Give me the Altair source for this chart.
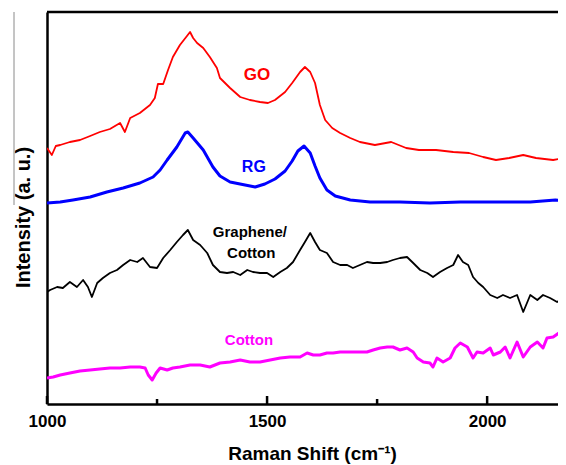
import altair as alt
import pandas as pd

# ---- data (wavenumber cm^-1, intensity a.u.) ----
go_x = [1000, 1011, 1020, 1030, 1052, 1075, 1098, 1120, 1143, 1166, 1177, 1189, 1211, 1234, 1245,
        1252, 1264, 1275, 1286, 1302, 1318, 1325, 1332, 1341, 1355, 1370, 1386, 1393, 1416, 1439,
        1461, 1484, 1502, 1518, 1541, 1557, 1575, 1586, 1598, 1609, 1620, 1632, 1648, 1666, 1689,
        1711, 1745, 1782, 1816, 1845, 1884, 1923, 1959, 1991, 2020, 2050, 2082, 2111, 2150, 2173]
go_y = [256, 249, 258, 259, 262, 264, 268, 272, 275, 281, 272, 286, 291, 299, 306,
        320, 320, 334, 347, 359, 368, 372, 366, 361, 356, 347, 336, 326, 316, 307,
        304, 302, 301, 304, 312, 321, 332, 337, 332, 321, 299, 284, 276, 271, 266,
        262, 259, 262, 256, 254, 254, 252, 251, 247, 244, 246, 249, 246, 244, 246]

rg_x = [1000, 1030, 1059, 1098, 1136, 1173, 1211, 1241, 1257, 1273, 1295, 1314, 1320, 1332, 1355,
        1377, 1393, 1416, 1450, 1473, 1495, 1518, 1541, 1557, 1570, 1584, 1598, 1609, 1620, 1636,
        1655, 1689, 1734, 1802, 1870, 1939, 2030, 2098, 2155, 2173]
rg_y = [201, 202, 204, 207, 212, 216, 221, 227, 234, 244, 257, 271, 272, 266, 254,
        237, 228, 222, 219, 217, 220, 225, 233, 243, 253, 258, 251, 238, 226, 214,
        208, 204, 202, 202, 201, 202, 202, 202, 204, 203]

gc_x = [1000, 1007, 1023, 1036, 1052, 1068, 1082, 1093, 1102, 1114, 1127, 1143, 1159, 1173, 1189,
        1205, 1218, 1234, 1250, 1264, 1280, 1295, 1309, 1320, 1332, 1348, 1364, 1377, 1393, 1409,
        1423, 1439, 1455, 1468, 1484, 1500, 1514, 1530, 1545, 1559, 1575, 1586, 1598, 1609, 1620,
        1636, 1650, 1666, 1682, 1695, 1711, 1727, 1741, 1757, 1773, 1786, 1802, 1818, 1832, 1848,
        1864, 1877, 1893, 1909, 1923, 1934, 1945, 1957, 1968, 1980, 1991, 2007, 2023, 2036, 2052,
        2068, 2082, 2098, 2114, 2127, 2143, 2159, 2173]
gc_y = [112, 114, 117, 116, 122, 117, 124, 117, 107, 121, 126, 131, 134, 139, 144,
        142, 146, 137, 136, 146, 154, 162, 169, 174, 164, 159, 151, 139, 132, 131,
        132, 129, 134, 132, 131, 131, 127, 132, 136, 142, 154, 162, 171, 162, 154,
        151, 142, 139, 139, 136, 139, 142, 141, 141, 142, 144, 146, 147, 141, 134,
        131, 127, 132, 136, 139, 149, 142, 139, 127, 121, 117, 109, 106, 109, 106,
        109, 92, 109, 104, 109, 106, 102, 106]

ct_x = [1000, 1014, 1030, 1052, 1075, 1098, 1120, 1143, 1166, 1189, 1211, 1223, 1230, 1239, 1248,
        1257, 1273, 1286, 1302, 1325, 1348, 1370, 1393, 1416, 1439, 1461, 1484, 1507, 1530, 1552,
        1575, 1591, 1605, 1620, 1636, 1650, 1666, 1682, 1695, 1711, 1727, 1741, 1757, 1773, 1786,
        1802, 1818, 1832, 1841, 1855, 1870, 1877, 1886, 1900, 1916, 1927, 1939, 1955, 1968, 1977,
        1991, 2007, 2014, 2030, 2041, 2052, 2068, 2082, 2098, 2114, 2127, 2136, 2150, 2166, 2173]
ct_y = [26, 27, 29, 31, 33, 34, 35, 36, 36, 37, 37, 36, 29, 24, 31,
        36, 34, 36, 37, 39, 39, 37, 41, 42, 44, 42, 42, 44, 46, 47,
        47, 51, 49, 49, 51, 51, 52, 52, 52, 52, 52, 54, 56, 57, 57,
        54, 56, 52, 46, 42, 41, 37, 46, 42, 46, 56, 61, 57, 46, 52,
        51, 56, 49, 52, 57, 46, 62, 47, 57, 62, 56, 66, 67, 72, 66]

series = [
    ("GO", go_x, go_y, "#ff0000", 1.8),
    ("RG", rg_x, rg_y, "#0000ff", 3),
    ("Graphene/Cotton", gc_x, gc_y, "#000000", 1.8),
    ("Cotton", ct_x, ct_y, "#ff00ff", 3),
]

label_text = ["GO", "RG", "Graphene/", "Cotton", "Cotton"]
label_x = [1477, 1470, 1461, 1464, 1459]
label_y = [324, 232, 167, 146, 59]
label_color = ["#ff0000", "#0000ff", "#000000", "#000000", "#ff00ff"]
label_size = [17, 16, 15, 15, 15]

major_ticks = [1000, 1500, 2000]
minor_ticks = [1250, 1750]

FONT = "Liberation Sans"
W, H = 511, 392

xscale = alt.Scale(domain=[1000, 2161], nice=False, zero=False)
yscale = alt.Scale(domain=[0, 392], nice=False, zero=False)

xaxis = alt.Axis(
    values=major_ticks, format="d", ticks=False, grid=False,
    domainColor="black", domainWidth=2.5,
    labelFont=FONT, labelFontWeight="bold", labelFontSize=17, labelColor="black",
    labelPadding=9, labelFlush=False,
    title="Raman Shift (cm\u207b\u00b9)", titleFont=FONT, titleFontWeight="bold",
    titleFontSize=19, titleColor="black", titleX=265, titleY=55,
    titleBaseline="alphabetic", titleAlign="center",
)
yaxis = alt.Axis(
    labels=False, ticks=False, grid=False,
    domainColor="black", domainWidth=2.5,
    title="Intensity (a. u.)", titleFont=FONT, titleFontWeight="bold",
    titleFontSize=20, titleColor="black", titleX=-18, titleY=205,
    titleBaseline="alphabetic", titleAlign="center", titleAngle=-90,
)

def X(field):
    return alt.X(field, scale=xscale, axis=xaxis)

def Y(field):
    return alt.Y(field, scale=yscale, axis=yaxis)

layers = []
for name, xs, ys, col, sw in series:
    df = pd.DataFrame({"x": xs, "y": ys})
    layers.append(
        alt.Chart(df).mark_line(color=col, strokeWidth=sw, clip=True, strokeJoin="round")
        .encode(x=X("x:Q"), y=Y("y:Q"), order="x:Q")
    )

lab_df = pd.DataFrame({"t": label_text, "x": label_x, "y": label_y,
                       "c": label_color, "s": label_size})
labels = alt.Chart(lab_df).mark_text(font=FONT, fontWeight="bold", baseline="alphabetic",
                                     align="center").encode(
    x=X("x:Q"), y=Y("y:Q"),
    text="t:N",
    color=alt.Color("c:N", scale=None),
    size=alt.Size("s:Q", scale=None),
)

maj = alt.Chart(pd.DataFrame({"t": major_ticks})).mark_rule(color="black", strokeWidth=2.5).encode(
    x=X("t:Q"), y=alt.value(H), y2=alt.value(H - 8))
mnr = alt.Chart(pd.DataFrame({"t": minor_ticks})).mark_rule(color="black", strokeWidth=2.5).encode(
    x=X("t:Q"), y=alt.value(H), y2=alt.value(H - 5))

top_line = alt.Chart(pd.DataFrame({"a": [0]})).mark_rule(color="black", strokeWidth=2.5).encode(
    x=alt.value(0), x2=alt.value(W), y=alt.value(0))
gray_line = alt.Chart(pd.DataFrame({"a": [0]})).mark_rule(color="#8a8a8a", strokeWidth=1).encode(
    x=alt.value(-33), y=alt.value(0), y2=alt.value(193))

chart = alt.layer(*layers, labels, maj, mnr, top_line, gray_line).properties(
    width=W, height=H,
    autosize=alt.AutoSizeParams(type="none"),
    padding={"left": 39, "top": 4, "right": 0, "bottom": 60},
    background="white",
).configure_view(stroke=None)

chart.save("out.html", embed_options={"renderer": "svg", "actions": False})
